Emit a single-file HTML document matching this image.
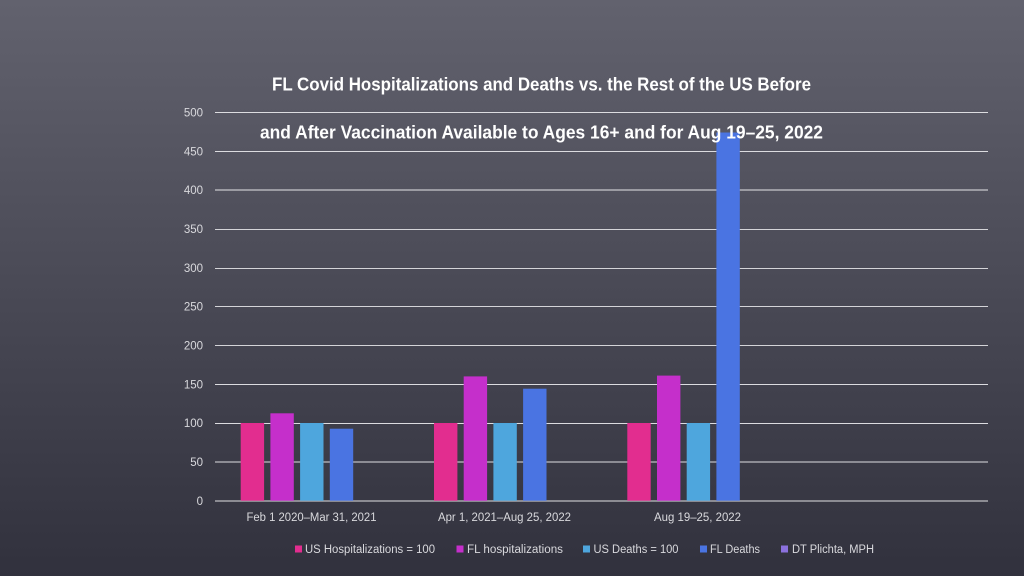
<!DOCTYPE html>
<html>
<head>
<meta charset="utf-8">
<style>
  html,body{margin:0;padding:0;}
  body{width:1024px;height:576px;overflow:hidden;}
  svg{display:block;}
  text{font-family:"Liberation Sans",sans-serif;}
</style>
</head>
<body>
<svg width="1024" height="576" viewBox="0 0 1024 576" xmlns="http://www.w3.org/2000/svg">
  <defs>
    <linearGradient id="bg" x1="0" y1="0" x2="0" y2="1">
      <stop offset="0" stop-color="#62626e"/>
      <stop offset="1" stop-color="#31313d"/>
    </linearGradient>
  </defs>
  <rect x="0" y="0" width="1024" height="576" fill="url(#bg)"/>

  <!-- gridlines -->
  <g stroke-width="1" fill="none">
    <line x1="215" x2="988" y1="112.5" y2="112.5" stroke="#dcdce0"/>
    <line x1="215" x2="988" y1="151.5" y2="151.5" stroke="#dcdce0"/>
    <line x1="215" x2="988" y1="190" y2="190" stroke="#b4b4ba" stroke-width="1.6"/>
    <line x1="215" x2="988" y1="229.5" y2="229.5" stroke="#d4d4d8"/>
    <line x1="215" x2="988" y1="268.5" y2="268.5" stroke="#d4d4d8"/>
    <line x1="215" x2="988" y1="306.5" y2="306.5" stroke="#d4d4d8"/>
    <line x1="215" x2="988" y1="345.5" y2="345.5" stroke="#d4d4d8"/>
    <line x1="215" x2="988" y1="384.5" y2="384.5" stroke="#dcdce0"/>
    <line x1="215" x2="988" y1="423.5" y2="423.5" stroke="#dcdce0"/>
    <line x1="215" x2="988" y1="462" y2="462" stroke="#a8a8ae" stroke-width="1.6"/>
    <line x1="215" x2="988" y1="501" y2="501" stroke="#a8a8ae" stroke-width="1.6"/>
  </g>

  <!-- y-axis labels -->
  <g fill="#d9d9dd" font-size="11.5" text-anchor="end">
    <text x="203" y="116.5">500</text>
    <text x="203" y="155.5">450</text>
    <text x="203" y="194">400</text>
    <text x="203" y="233">350</text>
    <text x="203" y="272">300</text>
    <text x="203" y="310.5">250</text>
    <text x="203" y="349.5">200</text>
    <text x="203" y="388.5">150</text>
    <text x="203" y="427">100</text>
    <text x="203" y="466">50</text>
    <text x="203" y="505">0</text>
  </g>

  <!-- bars -->
  <g>
    <rect x="240.7" y="423" width="23.4" height="77.7" fill="#e22d8f"/>
    <rect x="270.4" y="413.3" width="23.4" height="87.4" fill="#c52fcb"/>
    <rect x="300.1" y="423" width="23.4" height="77.7" fill="#4ea6dd"/>
    <rect x="329.8" y="428.7" width="23.4" height="72" fill="#4a74e2"/>
    <rect x="434" y="423" width="23.4" height="77.7" fill="#e22d8f"/>
    <rect x="463.7" y="376.4" width="23.4" height="124.3" fill="#c52fcb"/>
    <rect x="493.4" y="423" width="23.4" height="77.7" fill="#4ea6dd"/>
    <rect x="523.1" y="388.7" width="23.4" height="112" fill="#4a74e2"/>
    <rect x="627.3" y="423" width="23.4" height="77.7" fill="#e22d8f"/>
    <rect x="657" y="375.6" width="23.4" height="125.1" fill="#c52fcb"/>
    <rect x="686.7" y="423" width="23.4" height="77.7" fill="#4ea6dd"/>
    <rect x="716.4" y="132.5" width="23.4" height="368.2" fill="#4a74e2"/>
  </g>

  <!-- category labels -->
  <g fill="#d9d9dd" font-size="11.5" text-anchor="middle">
    <text x="311.5" y="521" textLength="130" lengthAdjust="spacingAndGlyphs">Feb 1 2020–Mar 31, 2021</text>
    <text x="504.5" y="521" textLength="133" lengthAdjust="spacingAndGlyphs">Apr 1, 2021–Aug 25, 2022</text>
    <text x="697.5" y="521" textLength="87" lengthAdjust="spacingAndGlyphs">Aug 19–25, 2022</text>
  </g>

  <!-- title -->
  <g fill="#ffffff" font-size="18.5" font-weight="bold" text-anchor="start">
    <text x="272" y="90.5" textLength="539" lengthAdjust="spacingAndGlyphs">FL Covid Hospitalizations and Deaths vs. the Rest of the US Before</text>
    <text x="260" y="138.5" textLength="563" lengthAdjust="spacingAndGlyphs">and After Vaccination Available to Ages 16+ and for Aug 19–25, 2022</text>
  </g>

  <!-- legend -->
  <g font-size="11.5" fill="#d9d9dd">
    <rect x="295" y="545.5" width="7" height="7" fill="#e22d8f"/>
    <text x="305" y="553" textLength="130" lengthAdjust="spacingAndGlyphs">US Hospitalizations = 100</text>
    <rect x="456.5" y="545.5" width="7" height="7" fill="#c52fcb"/>
    <text x="467" y="553" textLength="96" lengthAdjust="spacingAndGlyphs">FL hospitalizations</text>
    <rect x="583" y="545.5" width="7" height="7" fill="#4ea6dd"/>
    <text x="593.5" y="553" textLength="85" lengthAdjust="spacingAndGlyphs">US Deaths = 100</text>
    <rect x="700" y="545.5" width="7" height="7" fill="#4a74e2"/>
    <text x="710" y="553" textLength="50" lengthAdjust="spacingAndGlyphs">FL Deaths</text>
    <rect x="781" y="545.5" width="7" height="7" fill="#8b71de"/>
    <text x="792" y="553" textLength="82" lengthAdjust="spacingAndGlyphs">DT Plichta, MPH</text>
  </g>
</svg>
</body>
</html>
